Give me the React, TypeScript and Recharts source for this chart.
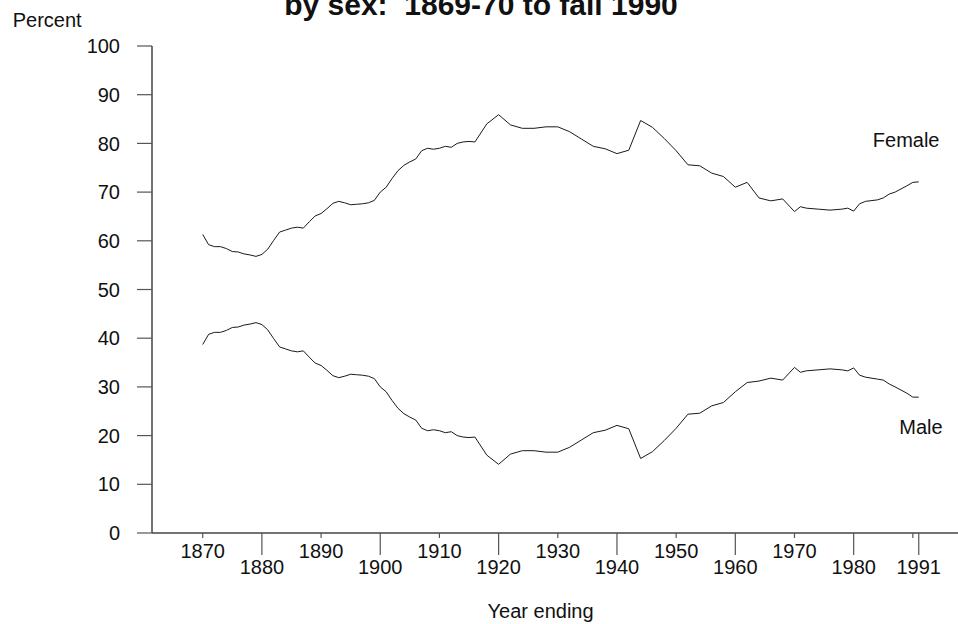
import { LineChart, Line, XAxis, YAxis } from "recharts";

// school years ending; surveys go biennial after 1916
const YEARS = [
  1870, 1871, 1872, 1873, 1874, 1875, 1876, 1877, 1878, 1879,
  1880, 1881, 1882, 1883, 1884, 1885, 1886, 1887, 1888, 1889,
  1890, 1891, 1892, 1893, 1894, 1895, 1896, 1897, 1898, 1899,
  1900, 1901, 1902, 1903, 1904, 1905, 1906, 1907, 1908, 1909,
  1910, 1911, 1912, 1913, 1914, 1915, 1916, 1918, 1920, 1922,
  1924, 1926, 1928, 1930, 1932, 1934, 1936, 1938, 1940, 1942,
  1944, 1946, 1948, 1950, 1952, 1954, 1956, 1958, 1960, 1962,
  1964, 1966, 1968, 1970, 1971, 1972, 1974, 1976, 1978, 1979,
  1980, 1981, 1982, 1984, 1985, 1986, 1987, 1989, 1990, 1991,
];

const FEMALE = [
  61.3, 59.2, 58.8, 58.8, 58.4, 57.8, 57.7, 57.3, 57.1, 56.8,
  57.2, 58.3, 60.1, 61.8, 62.2, 62.6, 62.8, 62.6, 63.9, 65.1,
  65.6, 66.6, 67.7, 68.1, 67.8, 67.4, 67.5, 67.6, 67.8, 68.3,
  70.0, 71.0, 72.8, 74.4, 75.5, 76.2, 76.8, 78.5, 79.0, 78.8,
  79.0, 79.4, 79.2, 80.0, 80.3, 80.4, 80.3, 84.0, 85.9, 83.8,
  83.1, 83.1, 83.4, 83.4, 82.4, 80.9, 79.4, 78.9, 77.9, 78.6,
  84.7, 83.3, 81.0, 78.5, 75.6, 75.4, 73.9, 73.2, 71.0, 72.0,
  68.8, 68.2, 68.6, 66.0, 67.0, 66.7, 66.5, 66.3, 66.5, 66.7,
  66.1, 67.6, 68.1, 68.4, 68.8, 69.6, 70.0, 71.3, 72.0, 72.1,
];

const MALE = [
  38.7, 40.8, 41.2, 41.2, 41.6, 42.2, 42.3, 42.7, 42.9, 43.2,
  42.8, 41.7, 39.9, 38.2, 37.8, 37.4, 37.2, 37.4, 36.1, 34.9,
  34.4, 33.4, 32.3, 31.9, 32.2, 32.6, 32.5, 32.4, 32.2, 31.7,
  30.0, 29.0, 27.2, 25.6, 24.5, 23.8, 23.2, 21.5, 21.0, 21.2,
  21.0, 20.6, 20.8, 20.0, 19.7, 19.6, 19.7, 16.0, 14.1, 16.2,
  16.9, 16.9, 16.6, 16.6, 17.6, 19.1, 20.6, 21.1, 22.1, 21.4,
  15.3, 16.7, 19.0, 21.5, 24.4, 24.6, 26.1, 26.8, 29.0, 30.9,
  31.2, 31.8, 31.4, 34.0, 33.0, 33.3, 33.5, 33.7, 33.5, 33.3,
  33.9, 32.4, 32.0, 31.6, 31.4, 30.6, 30.0, 28.7, 27.9, 27.9,
];

const X_TICKS = [1870, 1880, 1890, 1900, 1910, 1920, 1930, 1940, 1950, 1960, 1970, 1980, 1990, 1991];
const LONG_TICKS = [1880, 1900, 1920, 1940, 1960, 1980, 1991];
const Y_TICKS = [0, 10, 20, 30, 40, 50, 60, 70, 80, 90, 100];

const TITLE = "by sex:\u00a0 1869-70 to fall 1990";
const FONT = "'Liberation Sans', Arial, Helvetica, sans-serif";

const rows = YEARS.map((year, i) => ({ year, female: FEMALE[i], male: MALE[i] }));

// staggered year labels: every other decade hangs lower on a longer tick
function YearTick(props: any) {
  const { x, y, payload } = props;
  const v = payload.value as number;
  const long = LONG_TICKS.includes(v);
  return (
    <g>
      <line x1={x} x2={x} y1={y} y2={y + (long ? 22 : 5)} stroke="#555" strokeWidth={1.2} />
      {v !== 1990 && (
        <text x={x} y={y + (long ? 41 : 25)} textAnchor="middle" fontSize={20} fill="#111" fontFamily={FONT}>
          {v}
        </text>
      )}
    </g>
  );
}

export default function App() {
  return (
    <div
      style={{
        position: "absolute",
        top: 0,
        left: 0,
        width: 958,
        height: 624,
        background: "#fff",
        overflow: "hidden",
        fontFamily: FONT,
      }}
    >
      <LineChart width={958} height={624} data={rows} margin={{ top: 46, right: 0, bottom: 0, left: 0 }}>
        <XAxis
          dataKey="year"
          type="number"
          domain={[1861.43, 1997.63]}
          ticks={X_TICKS}
          interval={0}
          height={91}
          tickSize={0}
          tickMargin={0}
          tickLine={false}
          tick={<YearTick />}
          axisLine={{ stroke: "#444", strokeWidth: 1.5 }}
        />
        <YAxis
          type="number"
          domain={[0, 100]}
          ticks={Y_TICKS}
          interval={0}
          width={152}
          tickSize={15}
          tickMargin={17}
          tickLine={{ stroke: "#555", strokeWidth: 1.2 }}
          axisLine={{ stroke: "#444", strokeWidth: 1.5 }}
          tick={{ fontSize: 20, fill: "#111", fontFamily: FONT }}
        />
        <Line type="linear" dataKey="female" stroke="#1a1a1a" strokeWidth={1} dot={false} isAnimationActive={false} />
        <Line type="linear" dataKey="male" stroke="#1a1a1a" strokeWidth={1} dot={false} isAnimationActive={false} />
      </LineChart>
      <svg
        width={958}
        height={624}
        style={{ position: "absolute", top: 0, left: 0, pointerEvents: "none" }}
        fontFamily={FONT}
      >
        {/* title runs off the top edge, as in the source figure */}
        <text x={481} y={15} textAnchor="middle" fontSize={30} fontWeight="bold" fill="#111">
          {TITLE}
        </text>
        <text x={12.7} y={27.3} fontSize={20} fill="#111">
          Percent
        </text>
        <text x={540.6} y={617.5} textAnchor="middle" fontSize={20} fill="#111">
          Year ending
        </text>
        <text x={939.5} y={146.7} textAnchor="end" fontSize={20} fill="#111">
          Female
        </text>
        <text x={942.7} y={434} textAnchor="end" fontSize={20} fill="#111">
          Male
        </text>
      </svg>
    </div>
  );
}
